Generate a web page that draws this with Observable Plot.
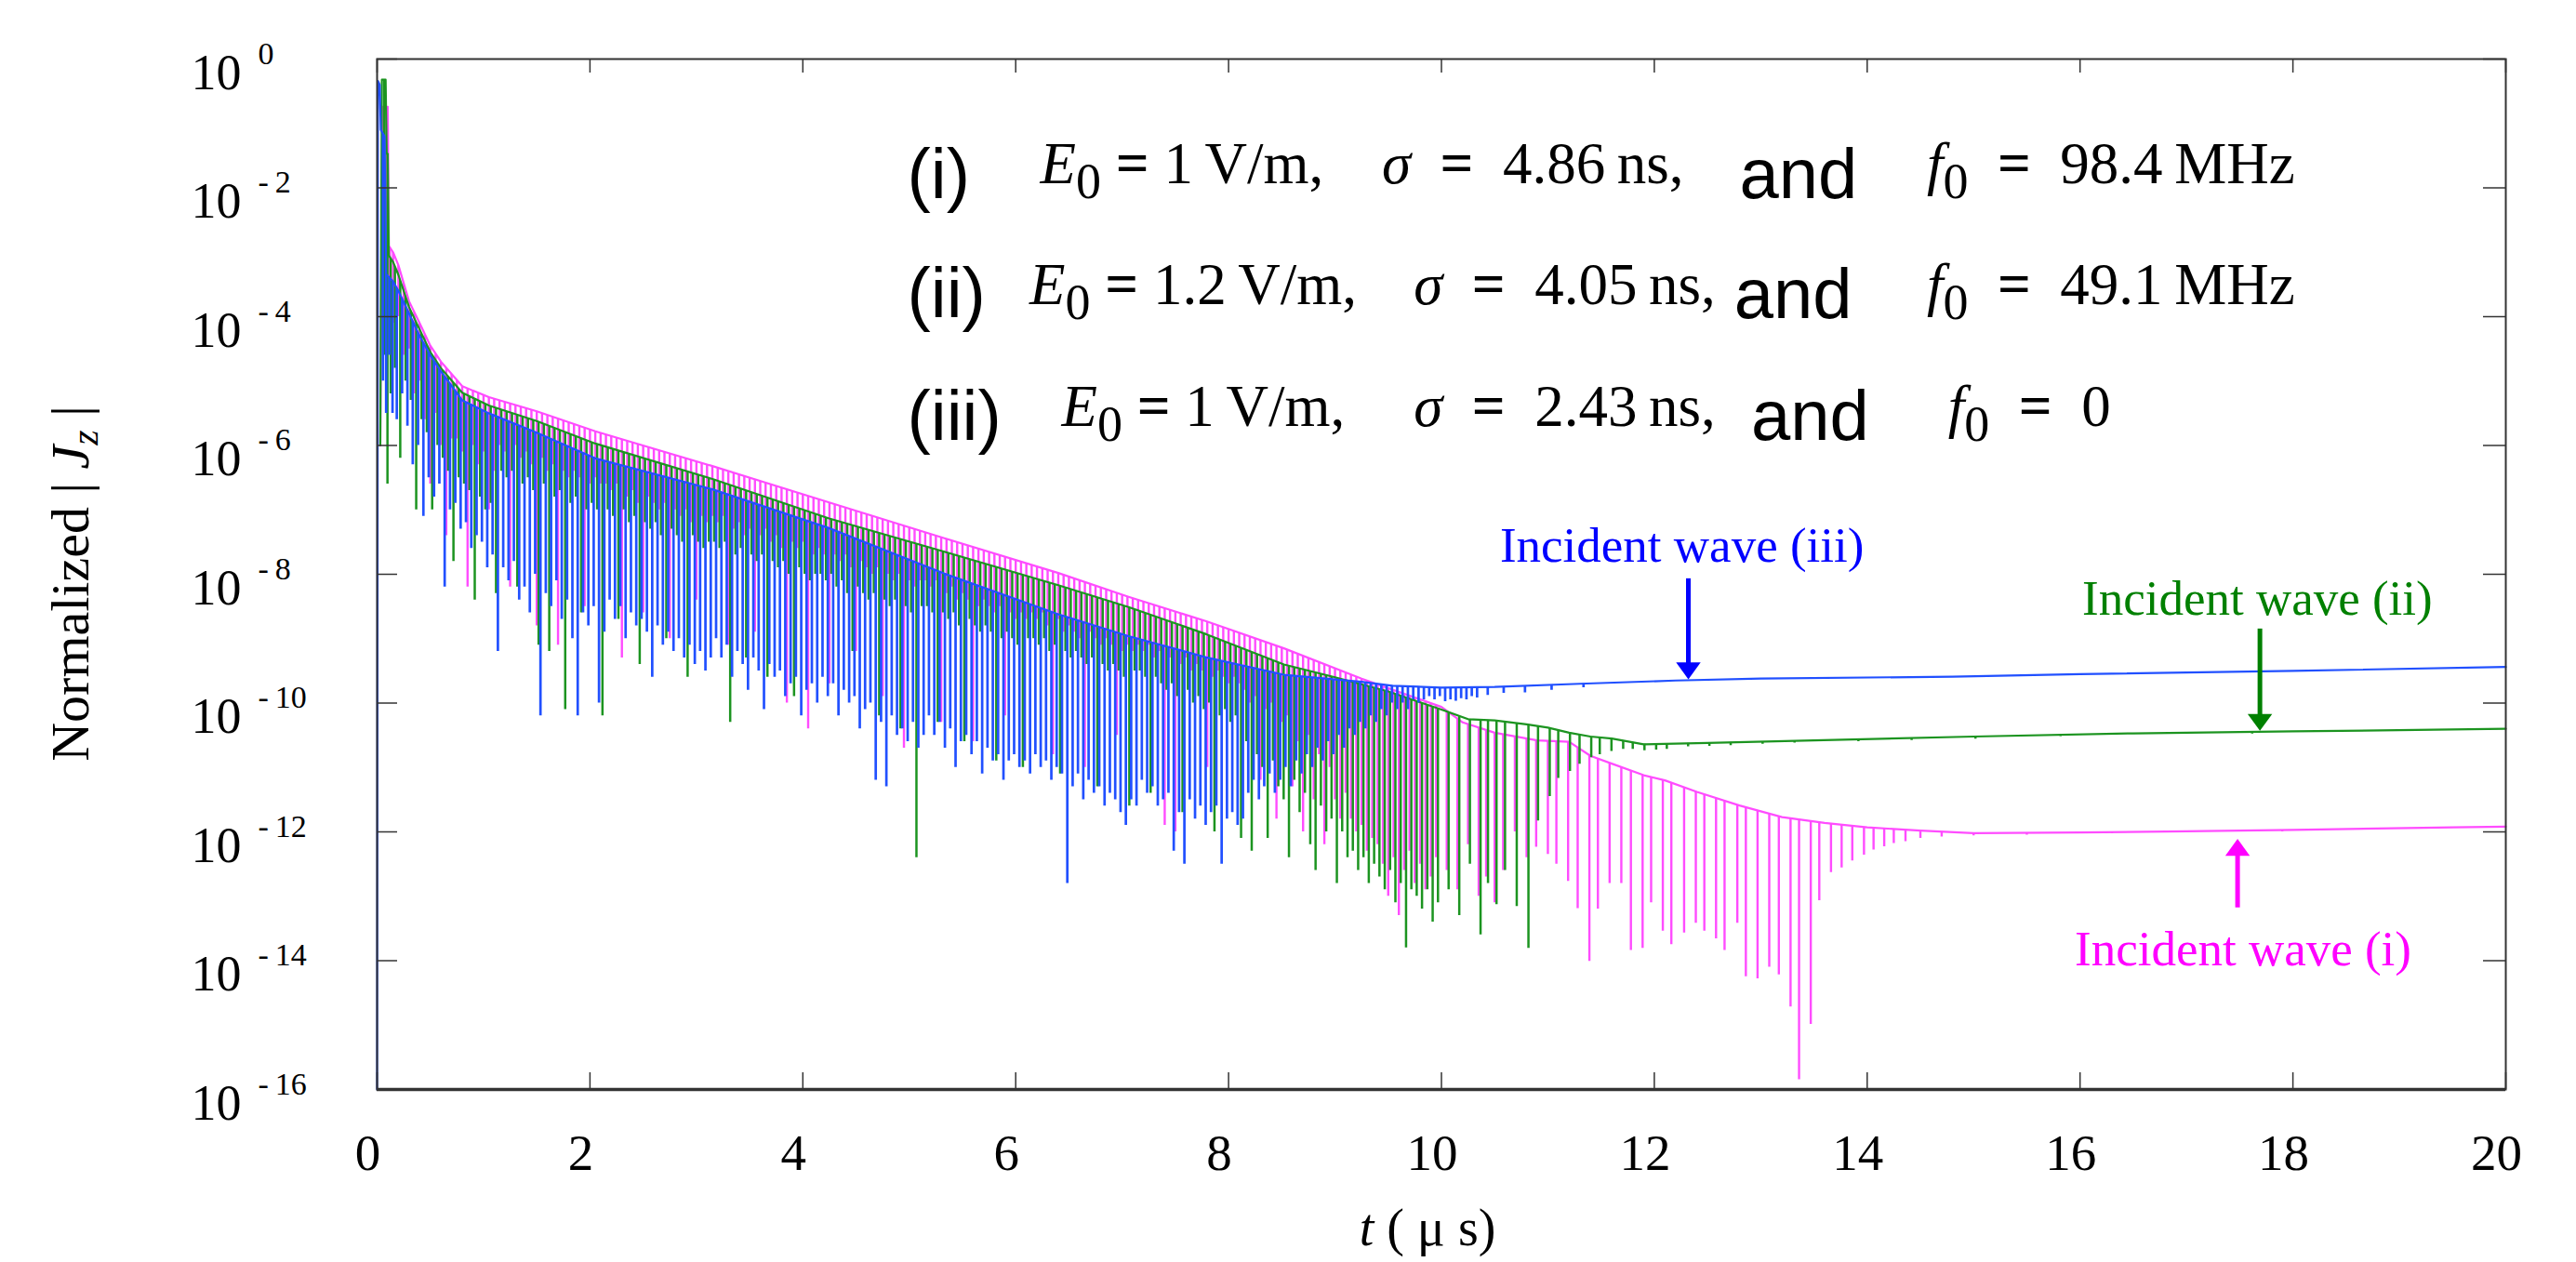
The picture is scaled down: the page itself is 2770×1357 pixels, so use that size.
<!DOCTYPE html>
<html>
<head>
<meta charset="utf-8">
<script src="https://cdn.jsdelivr.net/npm/d3@7"></script>
<script src="https://cdn.jsdelivr.net/npm/@observablehq/plot@0.6"></script>
<style>
  html, body { margin: 0; padding: 0; background: #ffffff; }
  #chart svg { display: block; }
</style>
</head>
<body>
<div id="chart"></div>
<script>
// ---------------- DATA ----------------
const xTickValues = [0, 2, 4, 6, 8, 10, 12, 14, 16, 18, 20];
const yTickExponents = [0, -2, -4, -6, -8, -10, -12, -14, -16];

const caseLabels = ["(i)", "(ii)", "(iii)"];
const fieldE0 = ["1", "1.2", "1"];           // V/m
const sigmaNs = ["4.86", "4.05", "2.43"];    // ns
const freqF0 = ["98.4\u2009MHz", "49.1\u2009MHz", "0"];
const incidentLabels = ["Incident wave (i)", "Incident wave (ii)", "Incident wave (iii)"];

// Upper envelopes (t in μs, log10 |Jz|)
const pinkEnvT = [0.03,0.05,0.1,0.11,0.15,0.2,0.3,0.4,0.5,0.6,0.8,1.05,1.5,2.05,3.15,4.24,5.33,6.4,7.06,7.79,8.52,9.25,10,10.2,10.5,10.9,11.2,11.4,11.6,11.9,12.1,12.4,12.8,13.2,13.6,14,14.5,15,16,17,18,19.5,20];
const pinkEnvE = [-6,-0.74,-0.74,-2.9,-3.0,-3.2,-3.76,-4.1,-4.45,-4.7,-5.08,-5.25,-5.47,-5.78,-6.32,-6.88,-7.44,-7.98,-8.35,-8.73,-9.15,-9.62,-10.06,-10.3,-10.46,-10.58,-10.6,-10.82,-10.94,-11.12,-11.2,-11.38,-11.59,-11.77,-11.86,-11.93,-11.98,-12.02,-12.01,-11.99,-11.97,-11.93,-11.92];

const greenEnvT = [0.03,0.045,0.08,0.09,0.1,0.11,0.15,0.2,0.3,0.4,0.5,0.6,0.8,1.05,1.5,2.05,3.15,4.24,5.33,6.4,7.06,7.79,8.52,9,9.5,10,10.25,10.5,10.8,11,11.2,11.4,11.6,11.9,12.5,13.5,15,16.5,18,20];
const greenEnvE = [-6,-0.32,-0.32,-1.47,-1.47,-3.05,-3.15,-3.35,-3.85,-4.2,-4.55,-4.8,-5.18,-5.38,-5.62,-5.97,-6.52,-7.13,-7.65,-8.17,-8.51,-8.93,-9.4,-9.6,-9.82,-10.1,-10.25,-10.27,-10.33,-10.38,-10.46,-10.52,-10.55,-10.64,-10.62,-10.58,-10.52,-10.47,-10.44,-10.4];

const blueEnvT = [0,0.008,0.025,0.035,0.07,0.085,0.15,0.2,0.3,0.4,0.5,0.6,0.8,1.05,1.5,2.05,3.15,4.24,5.33,6.4,7.06,7.79,8.52,9.25,9.54,10,10.5,11.3,12.2,13,14.8,16,18,20];
const blueEnvE = [-16,-0.34,-0.4,-1.1,-1.2,-3.34,-3.45,-3.6,-3.95,-4.3,-4.6,-4.85,-5.3,-5.5,-5.8,-6.2,-6.68,-7.28,-7.99,-8.62,-8.96,-9.29,-9.56,-9.67,-9.73,-9.76,-9.75,-9.7,-9.65,-9.62,-9.59,-9.55,-9.5,-9.44];

// Sample times of the dense oscillation dips (μs)
const tGrid = [
  0.15,0.2,0.25,0.3,0.35,0.4,0.45,0.5,0.55,0.6,0.65,0.7,0.75,0.8,0.85,0.9,0.95,1,1.05,1.1,
  1.15,1.2,1.25,1.3,1.35,1.4,1.45,1.5,1.55,1.6,1.65,1.7,1.75,1.8,1.85,1.9,1.95,2,2.05,2.1,
  2.15,2.2,2.25,2.3,2.35,2.4,2.45,2.5,2.55,2.6,2.65,2.7,2.75,2.8,2.85,2.9,2.95,3,3.05,3.1,
  3.15,3.2,3.25,3.3,3.35,3.4,3.45,3.5,3.55,3.6,3.65,3.7,3.75,3.8,3.85,3.9,3.95,4,4.05,4.1,
  4.15,4.2,4.25,4.3,4.35,4.4,4.45,4.5,4.55,4.6,4.65,4.7,4.75,4.8,4.85,4.9,4.95,5,5.05,5.1,
  5.15,5.2,5.25,5.3,5.35,5.4,5.45,5.5,5.55,5.6,5.65,5.7,5.75,5.8,5.85,5.9,5.95,6,6.05,6.1,
  6.15,6.2,6.25,6.3,6.35,6.4,6.45,6.5,6.55,6.6,6.65,6.7,6.75,6.8,6.85,6.9,6.95,7,7.05,7.1,
  7.15,7.2,7.25,7.3,7.35,7.4,7.45,7.5,7.55,7.6,7.65,7.7,7.75,7.8,7.85,7.9,7.95,8,8.05,8.1,
  8.15,8.2,8.25,8.3,8.35,8.4,8.45,8.5,8.55,8.6,8.65,8.7,8.75,8.8,8.85,8.9,8.95,9,9.05,9.1,
  9.15,9.2,9.25,9.3,9.35,9.4,9.45,9.5,9.55,9.6,9.65,9.7,9.75,9.8,9.85,9.9,9.95
];

// Dip minima (log10) at tGrid, per incident wave
const pinkDip = [
  -4.1,-4.0,-4.6,-4.5,-5.2,-5.0,-5.6,-6.6,-5.5,-6.0,-7.4,-5.9,-5.9,-6.1,-8.2,-6.0,-6.3,-6.1,-7.0,-6.4,
  -6.0,-6.1,-8.2,-6.0,-6.2,-6.1,-6.3,-8.8,-6.2,-6.4,-6.3,-9.1,-6.4,-6.5,-6.4,-6.5,-8.5,-6.6,-6.5,-6.6,
  -6.6,-6.7,-6.6,-9.3,-6.8,-6.7,-6.9,-8.6,-6.8,-6.9,-7.0,-6.9,-9.0,-7.0,-7.1,-7.0,-7.2,-8.4,-7.1,-7.2,
  -7.1,-7.2,-7.1,-9.1,-7.3,-7.2,-7.4,-7.3,-8.9,-7.4,-7.3,-7.5,-7.4,-7.6,-10.0,-7.5,-7.6,-7.5,-10.4,-7.7,
  -7.6,-7.7,-9.7,-7.7,-7.8,-7.7,-7.9,-9.2,-7.8,-7.9,-8.0,-7.9,-9.9,-8.0,-8.1,-8.0,-10.7,-8.1,-8.2,-8.1,
  -8.1,-8.2,-8.1,-10.3,-8.3,-8.2,-8.4,-8.3,-8.4,-10.6,-8.5,-8.4,-8.5,-8.6,-8.5,-10.2,-8.6,-8.7,-8.6,-8.7,
  -8.6,-8.7,-8.6,-8.8,-10.8,-8.7,-8.9,-8.8,-8.9,-9.0,-11.0,-8.9,-9.0,-9.1,-9.0,-9.1,-10.5,-9.2,-9.1,-9.2,
  -9.1,-9.2,-9.1,-9.3,-9.2,-11.9,-9.3,-12.0,-9.4,-9.3,-9.5,-9.4,-9.5,-11.0,-9.6,-9.5,-9.6,-9.7,-9.6,-9.7,
  -9.8,-10.0,-9.9,-11.2,-10.1,-10.0,-11.8,-10.3,-10.2,-11.3,-10.6,-12.0,-10.5,-11.5,-10.8,-12.2,-11.0,-11.5,-11.8,-11.4,
  -11.8,-12.0,-11.9,-12.3,-12.1,-12.2,-12.5,-13.0,-12.4,-13.3,-12.6,-12.3,-12.8,-12.5,-12.9,-12.7,-12.4
];
const greenDip = [
  -4.8,-6.2,-5.0,-5.3,-7.0,-5.6,-5.8,-7.0,-6.0,-6.2,-6.4,-7.8,-6.5,-6.6,-6.7,-8.4,-6.8,-7.0,-6.9,-8.3,
  -6.4,-6.5,-6.4,-8.2,-6.6,-6.5,-6.7,-9.1,-6.6,-9.2,-6.8,-6.7,-10.1,-6.9,-6.8,-8.6,-7.0,-6.9,-7.0,-10.2,
  -7.0,-7.1,-8.7,-7.0,-7.2,-7.1,-9.4,-7.2,-7.3,-7.2,-7.4,-9.0,-7.3,-7.4,-7.5,-9.6,-7.4,-7.5,-7.6,-7.5,
  -7.5,-7.6,-7.5,-10.3,-7.7,-7.6,-9.3,-7.7,-7.8,-7.7,-9.6,-7.8,-7.9,-7.8,-8.0,-9.9,-7.9,-8.0,-8.1,-8.0,
  -8.0,-8.1,-8.0,-8.2,-8.1,-8.3,-9.2,-8.2,-8.3,-8.4,-8.3,-10.2,-8.4,-8.5,-8.4,-10.4,-8.5,-8.6,-12.4,-8.5,
  -8.5,-8.6,-10.3,-8.6,-8.7,-8.6,-8.8,-10.6,-8.7,-8.8,-8.9,-8.8,-8.9,-10.9,-9.0,-8.9,-9.0,-9.1,-11.0,-9.0,
  -9.0,-9.1,-9.0,-9.2,-9.1,-11.1,-9.2,-9.3,-9.2,-9.3,-9.4,-9.3,-11.3,-9.4,-9.5,-9.4,-9.5,-9.6,-11.6,-9.5,
  -9.5,-9.6,-11.4,-9.6,-9.7,-9.8,-9.7,-9.9,-11.7,-9.8,-10.0,-9.9,-10.1,-10.0,-12.0,-10.2,-10.1,-10.3,-10.2,-12.1,
  -10.6,-12.3,-10.8,-11.0,-12.1,-10.9,-11.3,-11.5,-12.4,-11.2,-11.7,-11.4,-12.2,-12.6,-11.6,-12.0,-11.8,-12.8,-12.0,-12.4,
  -12.3,-12.6,-12.4,-12.8,-12.5,-12.7,-12.9,-12.6,-13.1,-12.8,-13.8,-12.9,-13.0,-13.2,-12.9,-13.4,-13.1
];
const blueDip = [
  -5.6,-5.2,-5.7,-6.3,-6.0,-7.1,-6.5,-6.8,-6.6,-8.2,-7.0,-6.9,-7.3,-7.2,-7.6,-7.4,-7.5,-7.9,-7.7,-9.2,
  -7.9,-8.1,-7.8,-8.4,-8.2,-8.6,-8.0,-10.2,-8.3,-8.5,-8.1,-8.7,-8.4,-9.0,-10.2,-8.6,-8.8,-8.5,-10.0,-8.9,
  -8.4,-8.7,-8.5,-9.0,-8.6,-8.8,-8.7,-8.9,-9.6,-8.8,-9.1,-8.9,-9.2,-9.0,-9.3,-9.1,-9.4,-9.2,-9.5,-9.3,
  -9.0,-9.3,-9.1,-9.6,-9.2,-9.4,-9.8,-9.3,-9.5,-10.1,-9.4,-9.6,-9.5,-9.9,-9.7,-9.6,-10.2,-9.8,-9.7,-10.0,
  -9.6,-9.9,-9.7,-10.2,-9.8,-10.0,-9.9,-10.4,-10.1,-10.0,-11.2,-10.3,-11.3,-10.2,-10.5,-10.4,-10.6,-10.3,-10.7,-10.5,
  -10.2,-10.5,-10.3,-10.7,-10.4,-11.0,-10.6,-10.5,-10.8,-10.6,-11.1,-10.7,-10.9,-10.8,-11.2,-10.9,-10.8,-11.0,-10.9,-11.1,
  -10.8,-11.0,-10.9,-11.2,-11.0,-11.1,-12.8,-11.3,-11.1,-11.5,-11.2,-11.4,-11.3,-11.6,-11.4,-11.5,-11.7,-11.9,-11.5,-11.6,
  -11.2,-11.4,-11.3,-11.6,-11.5,-11.4,-12.3,-11.7,-12.5,-11.5,-11.8,-11.6,-11.9,-11.7,-11.6,-12.5,-11.8,-11.7,-11.9,-11.8,
  -11.4,-11.2,-11.5,-11.3,-11.1,-11.4,-11.2,-11.0,-11.3,-10.9,-11.1,-10.8,-11.0,-10.7,-10.9,-10.6,-10.8,-10.5,-10.7,-10.4,
  -10.5,-10.3,-10.4,-10.2,-10.3,-10.1,-10.2,-10.0,-10.1,-10.0,-10.1,-9.95,-10.0,-9.95,-9.9,-9.95,-9.9
];

// Early dips (first pulse) and late sparse dips
const pinkEarlyT = [0.06, 0.09, 0.12];
const pinkEarlyDip = [-3.6, -4.9, -4.4];
const greenEarlyT = [0.05, 0.08, 0.11];
const greenEarlyDip = [-4.6, -6.6, -5.2];
const blueEarlyT = [0.02, 0.05, 0.08, 0.11];
const blueEarlyDip = [-5.0, -5.5, -4.6, -5.5];

const pinkTailT = [10.05,10.15,10.25,10.35,10.42,10.5,10.58,10.69,10.8,10.89,11,11.08,11.19,11.28,11.39,11.47,11.58,11.69,11.78,11.89,11.97,12.08,12.16,12.28,12.39,12.47,12.58,12.66,12.78,12.86,12.97,13.08,13.17,13.28,13.36,13.47,13.55,13.66,13.76,13.86,13.97,14.06,14.16,14.25,14.36,14.5,14.7,15,15.5,16.3,17.9];
const pinkTailDip = [-12.6,-12.9,-12.2,-13.0,-12.7,-13.1,-12.6,-12.0,-12.4,-12.24,-12.35,-12.5,-12.77,-13.19,-14.01,-13.2,-12.8,-12.8,-13.84,-13.81,-13.1,-13.54,-13.75,-13.57,-13.42,-13.54,-13.66,-13.84,-13.42,-14.25,-14.28,-14.1,-14.22,-14.72,-15.85,-14.99,-13.07,-12.63,-12.56,-12.45,-12.36,-12.28,-12.23,-12.18,-12.15,-12.1,-12.08,-12.06,-12.05,-12.03,-12.0];
const greenTailT = [10.05,10.15,10.25,10.35,10.42,10.5,10.58,10.69,10.8,10.89,11,11.08,11.19,11.28,11.39,11.47,11.58,11.69,11.78,11.89,12,12.1,12.3,12.5,12.7,13,13.3,13.9,14.4,15,15.8,17.6];
const greenTailDip = [-12.9,-13.3,-12.5,-13.6,-12.8,-13.13,-12.6,-13.16,-13.81,-11.83,-11.45,-11.17,-11.06,-10.95,-10.85,-10.8,-10.75,-10.72,-10.72,-10.74,-10.73,-10.72,-10.68,-10.67,-10.66,-10.64,-10.62,-10.6,-10.58,-10.56,-10.52,-10.48];
const blueTailT = [10,10.05,10.1,10.15,10.2,10.25,10.3,10.4,10.55,10.75,11,11.3];
const blueTailDip = [-9.98,-9.95,-9.97,-9.93,-9.95,-9.9,-9.92,-9.88,-9.85,-9.84,-9.8,-9.76];

// ---------------- CHART ----------------
const W = 2770, H = 1357;
const mL = 405, mR = 76, mT = 63, mB = 186;
const innerW = W - mL - mR, innerH = H - mT - mB;
const serif = "'Liberation Serif','Times New Roman',Times,serif";
const sans = "'Liberation Sans',Arial,Helvetica,sans-serif";
const NS = "http://www.w3.org/2000/svg";

const lineColor = {pink: "#ff4cff", green: "#1c9420", blue: "#2150ff"};
const textColor = {pink: "#ff00ff", green: "#008000", blue: "#0000ff"};
const spikeWidth = {pink: 2.4, green: 2.5, blue: 2.7};

const zip = (ts, es) => {
  const n = Math.min(ts.length, es.length), out = [];
  for (let i = 0; i < n; i++) out.push({t: ts[i], v: Math.pow(10, es[i])});
  return out;
};

const series = {
  pink: {env: zip(pinkEnvT, pinkEnvE), spikes: [...zip(pinkEarlyT, pinkEarlyDip), ...zip(tGrid, pinkDip), ...zip(pinkTailT, pinkTailDip)], dx: 0},
  green: {env: zip(greenEnvT, greenEnvE), spikes: [...zip(greenEarlyT, greenEarlyDip), ...zip(tGrid, greenDip), ...zip(greenTailT, greenTailDip)], dx: 2},
  blue: {env: zip(blueEnvT, blueEnvE), spikes: [...zip(blueEarlyT, blueEarlyDip), ...zip(tGrid, blueDip), ...zip(blueTailT, blueTailDip)], dx: 4}
};

function seriesMarks(key) {
  const s = series[key];
  return [
    Plot.areaY(s.env, {x: "t", y1: 1e-16, y2: "v", fill: "black", fillOpacity: 0, ariaDescription: "clip-" + key}),
    Plot.ruleX(s.spikes, {x: "t", y1: "v", y2: 1, stroke: lineColor[key], strokeWidth: spikeWidth[key], dx: s.dx, ariaDescription: "spikes-" + key}),
    Plot.line(s.env, {x: "t", y: "v", stroke: lineColor[key], strokeWidth: 2.2})
  ];
}

// Rich (tspan) text specs, applied after rendering
const rich = {};
let richId = 0;
function richText(parts, opts) {
  const id = "rich-" + (richId++);
  rich[id] = parts;
  const plain = parts.map(p => p[0]).join("");
  return Plot.text([plain], {text: d => d, ariaDescription: id, ...opts});
}

const annoMarks = [];
const linePos = [
  {lab: -2.152, math: -1.935, and: -2.152, xs: [4.98, 6.23, 9.44, 12.80, 14.56]},
  {lab: -4.0,   math: -3.81,  and: -4.02,  xs: [4.98, 6.13, 9.74, 12.75, 14.56]},
  {lab: -5.91,  math: -5.69,  and: -5.91,  xs: [4.98, 6.43, 9.74, 12.91, 14.76]}
];
const EQwide = ["\u2002=\u2002", {bold: true}];
const EQ = ["\u00a0=\u00a0", {bold: true}];
const SUB0 = ["0", {size: 54, shift: 16}];
linePos.forEach((p, i) => {
  const common = {textAnchor: "start", lineAnchor: "bottom"};
  annoMarks.push(Plot.text([caseLabels[i]], {x: p.xs[0], y: Math.pow(10, p.lab), text: d => d, fontSize: 76, fontFamily: sans, ...common}));
  annoMarks.push(richText([["E", {italic: true}], SUB0, EQ, [fieldE0[i] + "\u2009V/m,", {}]],
    {x: p.xs[1], y: Math.pow(10, p.math), fontSize: 63, fontFamily: serif, ...common}));
  annoMarks.push(richText([["\u03c3", {italic: true}], EQwide, [sigmaNs[i] + "\u2009ns,", {}]],
    {x: p.xs[2], y: Math.pow(10, p.math), fontSize: 63, fontFamily: serif, ...common}));
  annoMarks.push(Plot.text(["and"], {x: p.xs[3], y: Math.pow(10, p.and), text: d => d, fontSize: 76, fontFamily: sans, ...common}));
  annoMarks.push(richText([["f", {italic: true}], SUB0, EQwide, [freqF0[i], {}]],
    {x: p.xs[4], y: Math.pow(10, p.math), fontSize: 63, fontFamily: serif, ...common}));
});

// arrow heads with the tip at the anchor point
const triDown = {draw(ctx, size) { const r = Math.sqrt(size / Math.PI), w = 1.2 * r, h = 1.65 * r; ctx.moveTo(-w, -h); ctx.lineTo(w, -h); ctx.lineTo(0, 0); ctx.closePath(); }};
const triUp = {draw(ctx, size) { const r = Math.sqrt(size / Math.PI), w = 1.2 * r, h = 1.65 * r; ctx.moveTo(-w, h); ctx.lineTo(w, h); ctx.lineTo(0, 0); ctx.closePath(); }};

const incidentMarks = [
  Plot.text([incidentLabels[2]], {x: 10.55, y: Math.pow(10, -7.80), text: d => d, fill: textColor.blue, fontSize: 53, fontFamily: serif, textAnchor: "start", lineAnchor: "bottom"}),
  Plot.ruleX([12.32], {x: d => d, y1: Math.pow(10, -8.07), y2: Math.pow(10, -9.4), stroke: textColor.blue, strokeWidth: 5}),
  Plot.dot([12.32], {x: d => d, y: Math.pow(10, -9.63), symbol: triDown, r: 11, fill: textColor.blue, stroke: "none"}),

  Plot.text([incidentLabels[1]], {x: 16.02, y: Math.pow(10, -8.635), text: d => d, fill: textColor.green, fontSize: 53, fontFamily: serif, textAnchor: "start", lineAnchor: "bottom"}),
  Plot.ruleX([17.69], {x: d => d, y1: Math.pow(10, -8.85), y2: Math.pow(10, -10.2), stroke: textColor.green, strokeWidth: 5}),
  Plot.dot([17.69], {x: d => d, y: Math.pow(10, -10.43), symbol: triDown, r: 11, fill: textColor.green, stroke: "none"}),

  Plot.text([incidentLabels[0]], {x: 15.95, y: Math.pow(10, -14.065), text: d => d, fill: textColor.pink, fontSize: 53, fontFamily: serif, textAnchor: "start", lineAnchor: "bottom"}),
  Plot.ruleX([17.48], {x: d => d, y1: Math.pow(10, -13.18), y2: Math.pow(10, -12.34), stroke: textColor.pink, strokeWidth: 5}),
  Plot.dot([17.48], {x: d => d, y: Math.pow(10, -12.11), symbol: triUp, r: 11, fill: textColor.pink, stroke: "none"})
];

const axisColor = "#333333";
const plot = Plot.plot({
  width: W, height: H,
  marginLeft: mL, marginRight: mR, marginTop: mT, marginBottom: mB,
  style: {background: "#ffffff", fontFamily: serif, overflow: "visible"},
  x: {domain: [0, 20], axis: null},
  y: {type: "log", domain: [1e-16, 1], axis: null},
  marks: [
    ...seriesMarks("pink"),
    ...seriesMarks("green"),
    ...seriesMarks("blue"),
    // frame and inward ticks
    Plot.frame({stroke: axisColor, strokeWidth: 2}),
    Plot.ruleY([1e-16], {stroke: axisColor, strokeWidth: 3.5}),
    Plot.tickX(xTickValues, {x: d => d, insetTop: innerH - 18, stroke: axisColor, strokeWidth: 1.5}),
    Plot.tickX(xTickValues, {x: d => d, insetBottom: innerH - 15, stroke: axisColor, strokeWidth: 1.5}),
    Plot.tickY(yTickExponents, {y: d => Math.pow(10, d), insetRight: innerW - 22, stroke: axisColor, strokeWidth: 1.5}),
    Plot.tickY(yTickExponents, {y: d => Math.pow(10, d), insetLeft: innerW - 24, stroke: axisColor, strokeWidth: 1.5}),
    // tick labels
    Plot.text(xTickValues, {x: d => d, text: d => String(d), frameAnchor: "bottom", lineAnchor: "bottom", dy: 86, dx: -10, fontSize: 55, fontFamily: serif}),
    Plot.text(yTickExponents, {y: d => Math.pow(10, d), text: () => "10", frameAnchor: "left", textAnchor: "end", lineAnchor: "bottom", dx: -146, dy: 32, fontSize: 54, fontFamily: serif}),
    Plot.text(yTickExponents, {y: d => Math.pow(10, d), text: d => d === 0 ? "0" : "-\u2009" + (-d), frameAnchor: "left", textAnchor: "start", lineAnchor: "bottom", dx: -128, dy: 5, fontSize: 34, fontFamily: serif}),
    // axis titles
    richText([["t", {italic: true}], [" ( \u03bc s)", {}]], {frameAnchor: "bottom", textAnchor: "middle", lineAnchor: "bottom", dy: 167, dx: -15, fontSize: 56, fontFamily: serif}),
    richText([["Normalized | ", {}], ["J", {italic: true}], ["z", {italic: true, size: 42, shift: 10}], [" |", {shift: 0}]],
      {frameAnchor: "left", textAnchor: "middle", rotate: -90, lineAnchor: "bottom", dx: -311, dy: 10, fontSize: 58, fontFamily: serif}),
    ...annoMarks,
    ...incidentMarks
  ]
});

// ---- post-processing: clip spikes under their envelope, rich text ----
const svgEl = plot.tagName.toLowerCase() === "svg" ? plot : plot.querySelector("svg");
const defs = document.createElementNS(NS, "defs");
svgEl.insertBefore(defs, svgEl.firstChild);
for (const key of ["pink", "green", "blue"]) {
  const areaG = svgEl.querySelector(`[aria-description="clip-${key}"]`);
  const spikesG = svgEl.querySelector(`[aria-description="spikes-${key}"]`);
  if (!areaG || !spikesG) continue;
  const p = areaG.querySelector("path");
  if (!p) continue;
  const cp = document.createElementNS(NS, "clipPath");
  cp.setAttribute("id", "clip-" + key);
  const cpath = document.createElementNS(NS, "path");
  cpath.setAttribute("d", p.getAttribute("d"));
  const tr = areaG.getAttribute("transform");
  if (tr) cpath.setAttribute("transform", tr);
  cp.appendChild(cpath);
  defs.appendChild(cp);
  const wrap = document.createElementNS(NS, "g");
  wrap.setAttribute("clip-path", `url(#clip-${key})`);
  spikesG.parentNode.insertBefore(wrap, spikesG);
  wrap.appendChild(spikesG);
  areaG.remove();
}
for (const [id, parts] of Object.entries(rich)) {
  const g = svgEl.querySelector(`[aria-description="${id}"]`);
  if (!g) continue;
  const text = g.querySelector("text");
  if (!text) continue;
  while (text.firstChild) text.removeChild(text.firstChild);
  let shift = 0;
  for (const [s, st = {}] of parts) {
    const ts = document.createElementNS(NS, "tspan");
    ts.textContent = s;
    if (st.italic) ts.setAttribute("font-style", "italic");
    if (st.bold) ts.setAttribute("font-weight", "bold");
    if (st.size) ts.setAttribute("font-size", st.size);
    const target = st.shift || 0;
    if (target !== shift) { ts.setAttribute("dy", target - shift); shift = target; }
    text.appendChild(ts);
  }
}
document.getElementById("chart").appendChild(plot);
</script>
</body>
</html>
